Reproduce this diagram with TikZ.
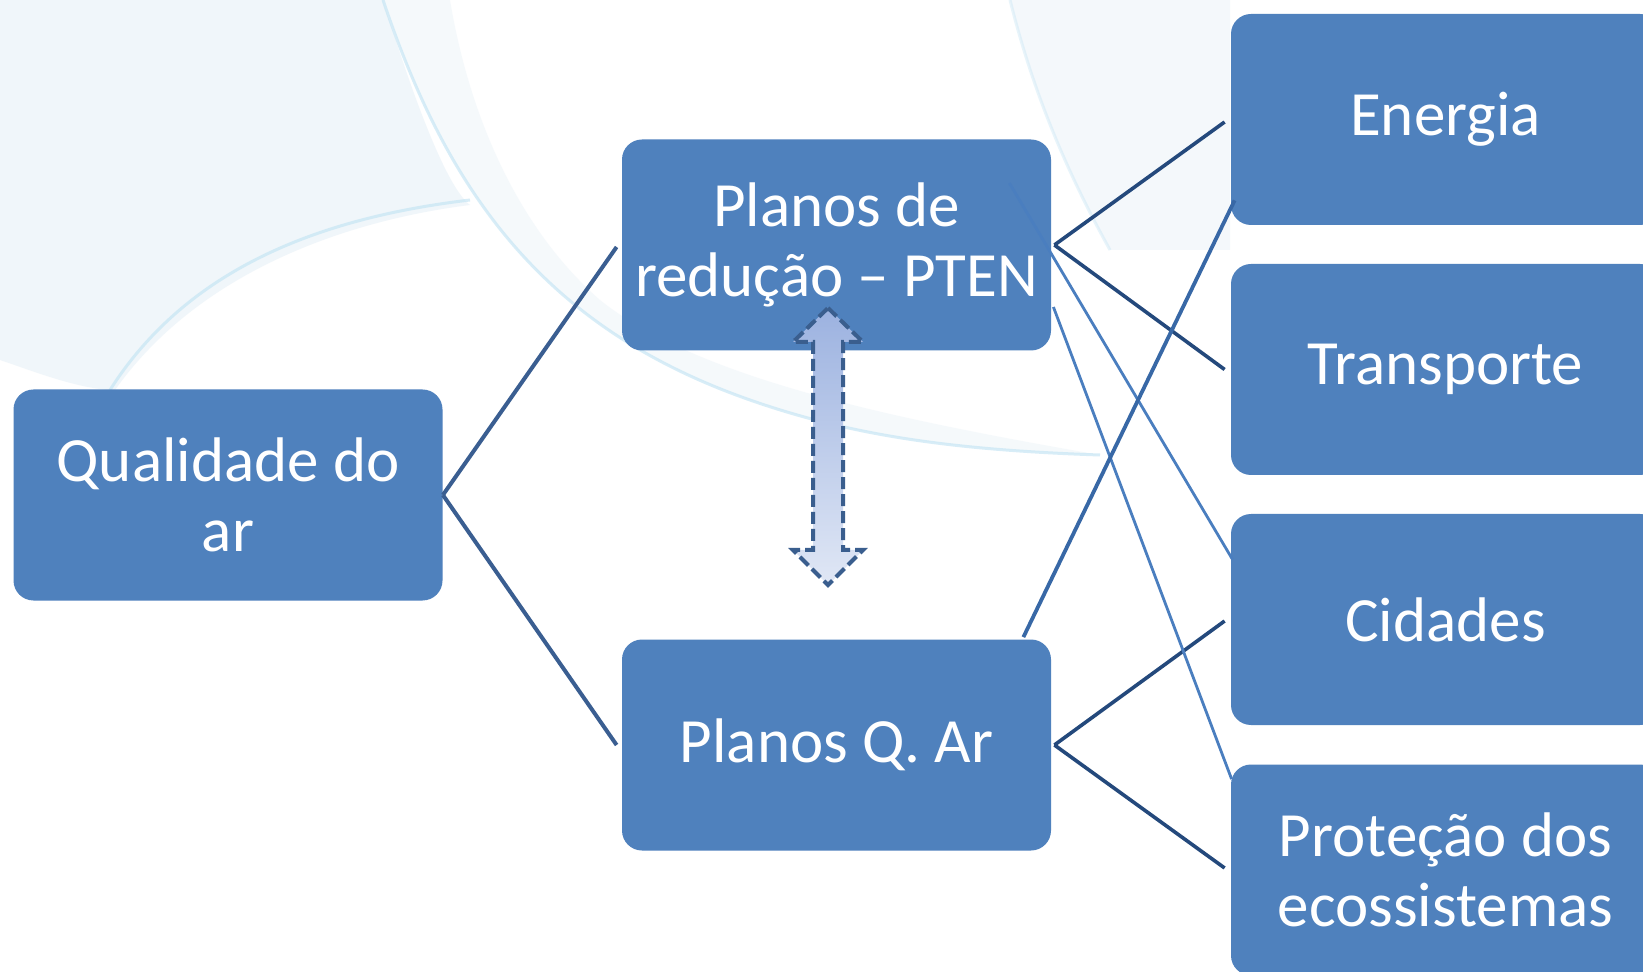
\documentclass[tikz,border=0pt]{standalone}
\usepackage{fontspec}
\setmainfont{Carlito}
\usetikzlibrary{calc}
\definecolor{boxblue}{HTML}{4F81BD}
\definecolor{lineleft}{HTML}{3A5E91}
\definecolor{linedark}{HTML}{24497C}
\definecolor{linecross}{HTML}{4A7EBF}
\definecolor{linecrossb}{HTML}{3868A6}
\definecolor{arrowdraw}{HTML}{3A5E8E}
\definecolor{arrowtop}{HTML}{9CB2E0}
\definecolor{arrowbot}{HTML}{E0E7F5}
\definecolor{bgpale}{HTML}{EDF4F9}
\definecolor{bgline}{HTML}{BFE2F3}
\begin{document}
\begin{tikzpicture}[x=0.5pt,y=-0.5pt,
  box/.style={rectangle, rounded corners=10pt, fill=boxblue, draw=none,
    text=white, minimum width=214.5pt, minimum height=105.5pt, align=center,
    inner sep=0pt, font=\fontsize{31.5}{35}\selectfont},
  lineL/.style={draw=lineleft, line width=2pt},
  lineD/.style={draw=linedark, line width=1.8pt},
  lineC/.style={draw=linecross, line width=1.4pt},
  lineCB/.style={draw=linecrossb, line width=1.9pt},
  bgcurve/.style={draw=bgline, line width=1.5pt, opacity=0.6}]
\useasboundingbox (0,0) rectangle (1643,972);
\clip (0,0) rectangle (1643,972);
\fill[white] (0,0) rectangle (1643,972);
% faint background swooshes
\fill[bgpale, opacity=0.8] (0,0) -- (383,0) .. controls (420,120) and (450,190) .. (470,205)
  .. controls (350,220) and (200,270) .. (115,390) .. controls (80,390) and (30,370) .. (0,360) -- cycle;
\fill[bgpale, opacity=0.5] (383,0) .. controls (450,200) and (550,330) .. (750,400)
  .. controls (850,435) and (950,450) .. (1100,455)
  .. controls (900,420) and (700,380) .. (600,300)
  .. controls (520,230) and (470,120) .. (450,0) -- cycle;
\fill[bgpale, opacity=0.6] (1010,0) .. controls (1030,80) and (1060,160) .. (1110,250)
  -- (1230,250) -- (1230,0) -- cycle;
\draw[bgcurve] (383,0) .. controls (450,200) and (550,330) .. (750,400)
  .. controls (850,435) and (950,450) .. (1100,455);
\draw[bgcurve] (110,390) .. controls (180,280) and (300,220) .. (470,200);
\draw[bgcurve, opacity=0.35] (1010,0) .. controls (1030,80) and (1060,160) .. (1110,250);

% boxes
\node[box] (q) at (228,495) {Qualidade do\\ar};
\node[box] (pten) at (836.5,245) {Planos de\\redução – PTEN};
\node[box] (qar) at (836.5,745) {Planos Q. Ar};
\node[box] (en) at (1445.5,119.5) {Energia};
\node[box] (tr) at (1445.5,369.5) {Transporte};
\node[box] (cid) at (1445.5,619.5) {Cidades};
\node[box] (prot) at (1445.5,870) {Proteção dos\\ecossistemas};

% connectors from Qualidade
\draw[lineL] (q.east) -- ([xshift=-2.5pt,yshift=-1pt]pten.west);
\draw[lineL] (q.east) -- ([xshift=-2.5pt]qar.west);
% connectors PTEN
\draw[lineD] ([xshift=1.5pt]pten.east) -- ([xshift=-3pt,yshift=-1.25pt]en.west);
\draw[lineD] ([xshift=1.5pt]pten.east) -- ([xshift=-3pt]tr.west);
% connectors Q. Ar
\draw[lineD] ([xshift=1.5pt]qar.east) -- ([xshift=-3pt,yshift=-0.75pt]cid.west);
\draw[lineD] ([xshift=1.5pt]qar.east) -- ([xshift=-3pt,yshift=1pt]prot.west);
% crossing connectors
\coordinate (c1) at ($(pten.north east)+(-42,44)$);
\coordinate (c2) at ($(cid.north west)+(2,46)$);
\coordinate (c3) at ($(pten.east)+(2,62)$);
\coordinate (c4) at ($(prot.north west)+(1,15)$);
\coordinate (c5) at ($(en.south west)+(4,-25)$);
\coordinate (c6) at ($(qar.north east)+(-28,-2)$);
\draw[lineC] (c1) -- (c2);
\draw[lineC] (c3) -- (c4);
\draw[lineCB] (c5) -- (c6);

% double arrow
\path[top color=arrowtop, bottom color=arrowbot, draw=arrowdraw, line width=2pt,
  dash pattern=on 6pt off 2.5pt]
  (828,308) -- (863,342) -- (843,342) -- (843,550) -- (863,550) -- (828,585)
  -- (793,550) -- (813,550) -- (813,342) -- (793,342) -- cycle;
\end{tikzpicture}
\end{document}
